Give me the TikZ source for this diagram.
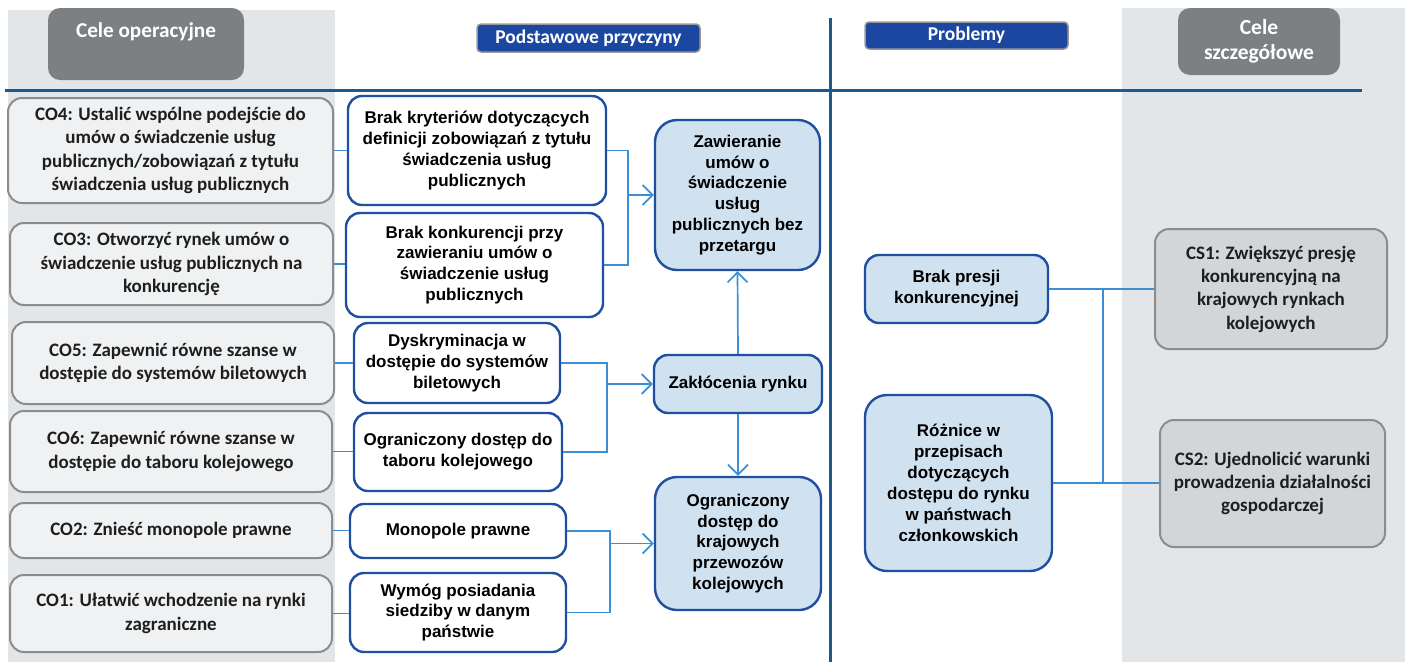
\documentclass[tikz,border=0pt]{standalone}
\usepackage{fontspec}
\setmainfont{Carlito}
\newfontfamily\arialf{Liberation Sans}
\usetikzlibrary{arrows.meta}

\definecolor{panelgray}{HTML}{E3E6E9}
\definecolor{headgray}{HTML}{7D8083}
\definecolor{headblue}{HTML}{1C47A0}
\definecolor{boxblue}{HTML}{1F4FA0}
\definecolor{fillblue}{HTML}{D0E1F0}
\definecolor{linkblue}{HTML}{3A8FD5}
\definecolor{rulblue}{HTML}{1B5A8E}
\definecolor{cofill}{HTML}{EFF1F2}
\definecolor{coline}{HTML}{8C8C8C}
\definecolor{csfill}{HTML}{D3D6D9}
\definecolor{txtgray}{HTML}{1E1E1E}

\begin{document}
\begin{tikzpicture}[x=1pt, y=-1pt,
  cel/.style={draw=coline, line width=2pt, fill=cofill, rounded corners=14pt,
    align=center, text=txtgray, font=\bfseries\fontsize{19}{23.3}\selectfont},
  cs/.style={cel, fill=csfill},
  przyczyna/.style={draw=boxblue, line width=2.4pt, fill=white, rounded corners=14pt,
    align=center, text=black, font=\arialf\bfseries\fontsize{17}{20.9}\selectfont},
  skutek/.style={przyczyna, fill=fillblue, rounded corners=22pt},
  naglowek/.style={draw=gray!80, line width=1.5pt, fill=headblue, rounded corners=4pt,
    text=white, font=\bfseries\fontsize{19.5}{22}\selectfont},
  szary/.style={fill=headgray, rounded corners=12pt, text=white, align=center,
    font=\bfseries\fontsize{21.5}{25}\selectfont},
  conn/.style={draw=linkblue, line width=1.7pt},
  arr/.style={conn, -{Straight Barb[length=10pt,width=20pt]}}
]
  \useasboundingbox (0,0) rectangle (1405,662);
  % tla kolumn
  \fill[panelgray] (8,10) rectangle (335,662);
  \fill[panelgray] (1122,8) rectangle (1405,662);
  % linie podzialu
  \draw[rulblue, line width=3pt] (830,18) -- (830,662);
  \draw[rulblue, line width=3pt] (5,90) -- (1362,90);

  % naglowki
  \node[szary, minimum width=196, minimum height=72,
    label={[text=white, font=\bfseries\fontsize{21.2}{24}\selectfont, below=11pt]north:Cele operacyjne}]
    (hco) at (146,44) {};
  \node[naglowek, minimum width=223, minimum height=28] (hpp) at (588.5,38) {Podstawowe przyczyny};
  \node[naglowek, minimum width=203, minimum height=27] (hpr) at (966.5,35.5) {Problemy};
  \node[szary, minimum width=162, minimum height=67] (hcs) at (1259,41.5) {Cele\\szczegółowe};

  % cele operacyjne
  \node[cel, minimum width=325, minimum height=105] (co4) at (170.5,150.5)
    {CO4: Ustalić wspólne podejście do\\umów o świadczenie usług\\publicznych/zobowiązań z tytułu\\świadczenia usług publicznych};
  \node[cel, minimum width=323, minimum height=82] (co3) at (171.5,264)
    {CO3: Otworzyć rynek umów o\\świadczenie usług publicznych na\\konkurencję};
  \node[cel, minimum width=322, minimum height=82] (co5) at (173,363)
    {CO5: Zapewnić równe szanse w\\dostępie do systemów biletowych};
  \node[cel, minimum width=322, minimum height=81] (co6) at (171,451.5)
    {CO6: Zapewnić równe szanse w\\dostępie do taboru kolejowego};
  \node[cel, minimum width=322, minimum height=55] (co2) at (171,530.5)
    {CO2: Znieść monopole prawne};
  \node[cel, minimum width=322, minimum height=77] (co1) at (171,613.5)
    {CO1: Ułatwić wchodzenie na rynki\\zagraniczne};

  % przyczyny
  \node[przyczyna, minimum width=258, minimum height=109] (b1) at (477,150.5)
    {Brak kryteriów dotyczących\\definicji zobowiązań z tytułu\\świadczenia usług\\publicznych};
  \node[przyczyna, minimum width=257, minimum height=104] (b2) at (474.5,265)
    {Brak konkurencji przy\\zawieraniu umów o\\świadczenie usług\\publicznych};
  \node[przyczyna, minimum width=206, minimum height=80] (b3) at (457,363)
    {Dyskryminacja w\\dostępie do systemów\\biletowych};
  \node[przyczyna, minimum width=208, minimum height=78] (b4) at (458,452)
    {Ograniczony dostęp do\\taboru kolejowego};
  \node[przyczyna, minimum width=216, minimum height=54] (b5) at (458,531)
    {Monopole prawne};
  \node[przyczyna, minimum width=216, minimum height=79] (b6) at (458,612.5)
    {Wymóg posiadania\\siedziby w danym\\państwie};

  % skutki
  \node[skutek, minimum width=165, minimum height=150] (e1) at (737.5,195)
    {Zawieranie\\umów o\\świadczenie\\usług\\publicznych bez\\przetargu};
  \node[skutek, rounded corners=14pt, minimum width=168, minimum height=58] (e2) at (738,384)
    {Zakłócenia rynku};
  \node[skutek, minimum width=166, minimum height=133] (e3) at (738,543.5)
    {Ograniczony\\dostęp do\\krajowych\\przewozów\\kolejowych};

  % problemy
  \node[skutek, rounded corners=14pt, minimum width=183, minimum height=68] (p1) at (956.5,289)
    {Brak presji\\konkurencyjnej};
  \node[skutek, minimum width=187, minimum height=176] (p2) at (958.5,483)
    {Różnice w\\przepisach\\dotyczących\\dostępu do rynku\\w państwach\\członkowskich};

  % cele szczegolowe
  \node[cs, minimum width=232, minimum height=120] (cs1) at (1271,289)
    {CS1: Zwiększyć presję\\konkurencyjną na\\krajowych rynkach\\kolejowych};
  \node[cs, minimum width=225, minimum height=127] (cs2) at (1272.5,483.5)
    {CS2: Ujednolicić warunki\\prowadzenia działalności\\gospodarczej};

  % polaczenia cele - przyczyny
  \draw[conn] (co4.east) -- (co4.east -| b1.west);
  \draw[conn] (co3.east) -- (co3.east -| b2.west);
  \draw[conn] (co5.east) -- (co5.east -| b3.west);
  \draw[conn] (co6.east) -- (co6.east -| b4.west);
  \draw[conn] (co2.east) -- (co2.east -| b5.west);
  \draw[conn] (co1.east) -- (co1.east -| b6.west);

  % przyczyny - skutki
  \coordinate (j1) at (628,195);
  \coordinate (j2) at (607,384);
  \coordinate (j3) at (610,543.5);
  \draw[conn] (b1.east) -| (j1) |- (b2.east);
  \draw[arr] (j1) -- (e1.west);
  \draw[conn] (b3.east) -| (j2) |- (b4.east);
  \draw[arr] (j2) -- (e2.west);
  \draw[conn] (b5.east) -| (j3) |- (b6.east);
  \draw[arr] (j3) -- (e3.west);
  \draw[arr] (e2.north) -- (e1.south);
  \draw[arr] (e2.south) -- (e3.north);

  % problemy - cele szczegolowe
  \coordinate (k1) at (1103,289);
  \coordinate (k2) at (1103,483);
  \draw[conn] (p1.east) -- (cs1.west);
  \draw[conn] (p2.east) -- (p2.east -| cs2.west);
  \draw[conn] (k1) -- (k2);
\end{tikzpicture}
\end{document}
